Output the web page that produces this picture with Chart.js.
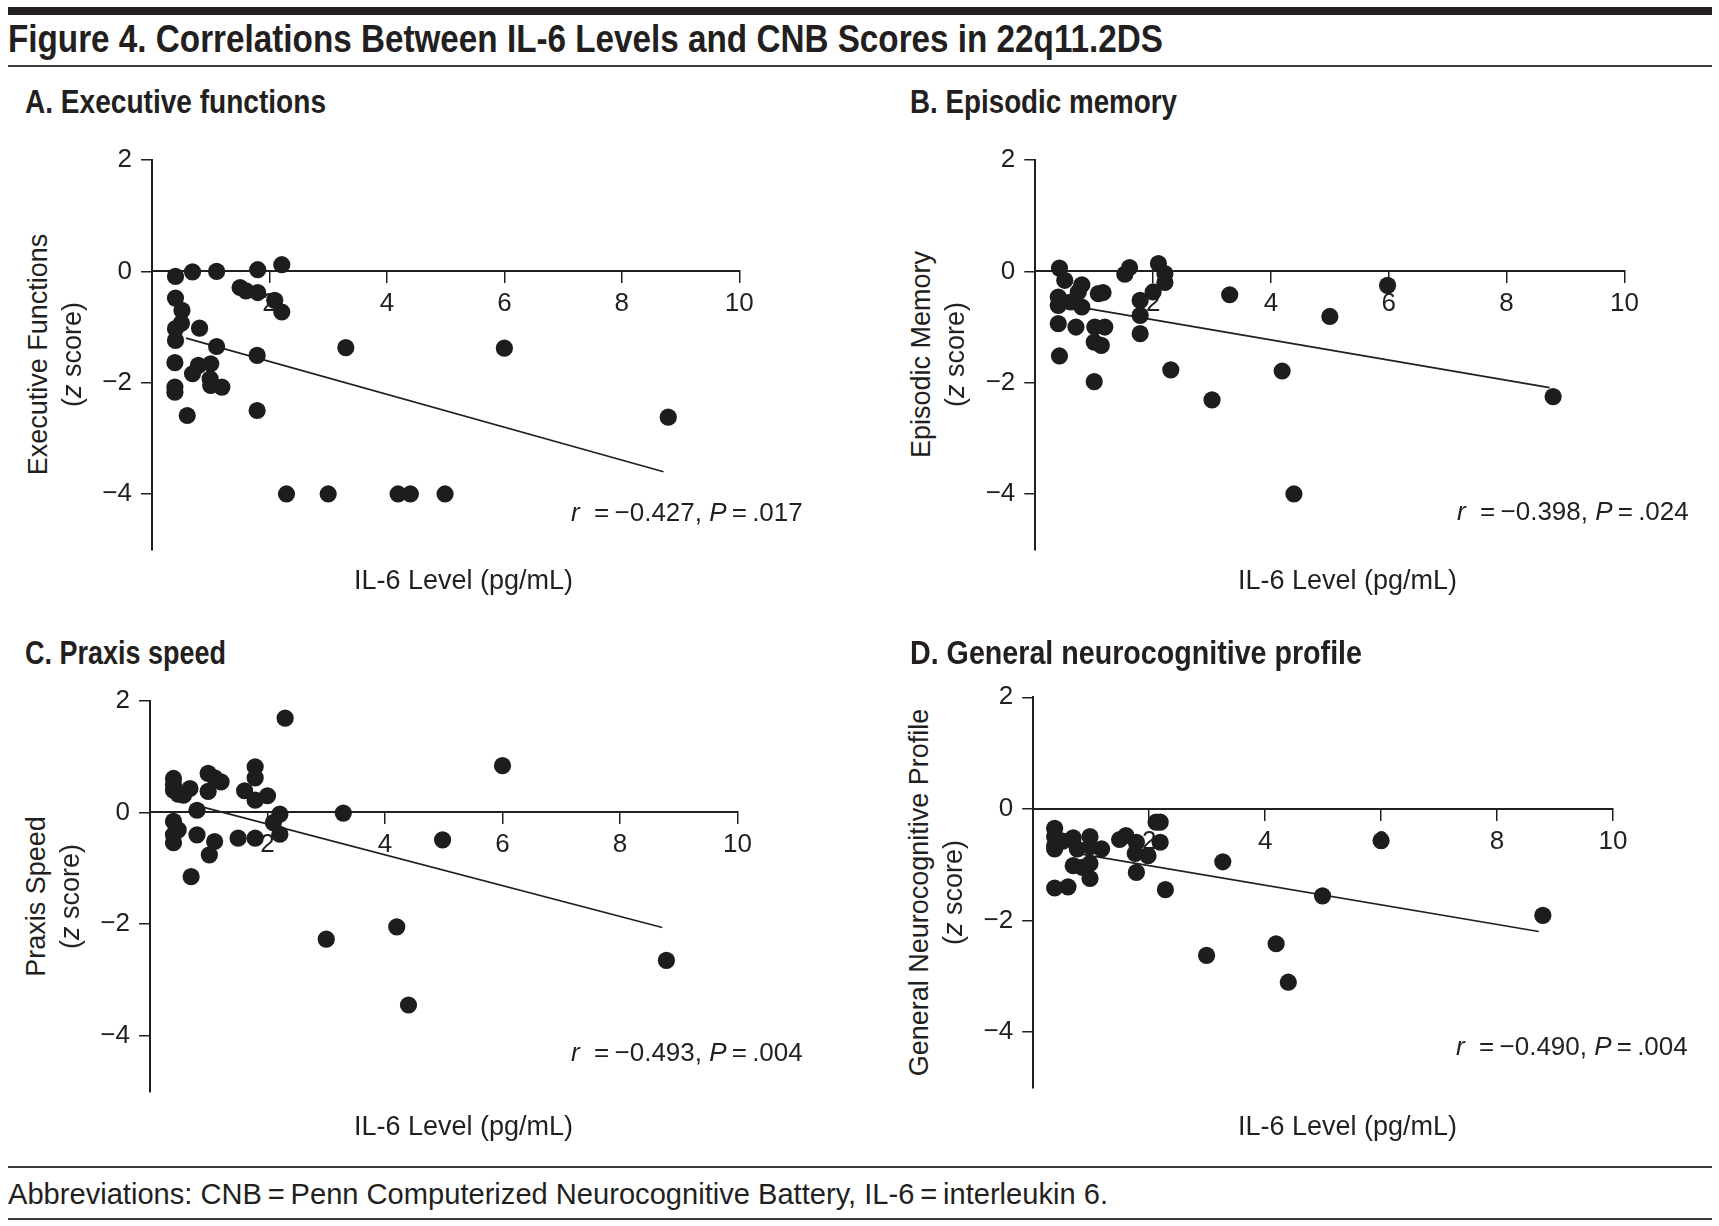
<!DOCTYPE html>
<html><head><meta charset="utf-8">
<script src="https://cdn.jsdelivr.net/npm/chart.js@4.4.1/dist/chart.umd.min.js"></script>
<style>
html,body{margin:0;padding:0;background:#fff;}
body{width:1719px;height:1226px;position:relative;overflow:hidden;}
canvas{position:absolute;}
.t{position:absolute;white-space:nowrap;color:#231f20;}
.rule{position:absolute;}
</style></head><body>
<script>
// ---------------- data ----------------
const xTicks = [2, 4, 6, 8, 10];
const yTicks = [-4, -2, 0, 2];

// A. Executive functions
const execIL6 = [0.40,0.69,1.10,1.80,2.21,1.50,1.60,1.80,2.09,2.21,0.40,0.51,0.50,0.40,0.81,0.40,1.10,1.79,3.30,6.00,0.39,0.79,1.00,0.69,0.99,1.00,1.19,0.39,0.39,0.60,1.79,8.79,2.29,3.00,4.19,4.40,4.99];
const execZ   = [-0.09,-0.01,0.00,0.03,0.12,-0.29,-0.35,-0.38,-0.52,-0.73,-0.48,-0.70,-0.93,-1.03,-1.02,-1.24,-1.35,-1.51,-1.37,-1.38,-1.64,-1.69,-1.66,-1.84,-1.93,-2.05,-2.08,-2.08,-2.17,-2.59,-2.50,-2.62,-4.00,-4.00,-4.00,-4.00,-4.00];
const execFitIL6 = [0.58, 8.71];
const execFitZ   = [-1.20, -3.60];

// B. Episodic memory
const memIL6 = [0.41,0.50,0.79,0.73,1.07,1.15,0.39,0.39,0.60,0.79,0.39,0.69,1.01,1.18,1.00,1.12,0.41,1.00,1.52,1.60,2.09,2.20,2.20,2.00,1.78,1.78,1.78,3.30,5.98,5.00,2.30,3.00,4.19,4.39,8.79];
const memZ   = [0.06,-0.16,-0.24,-0.37,-0.40,-0.38,-0.46,-0.61,-0.55,-0.64,-0.94,-1.00,-1.00,-1.00,-1.27,-1.33,-1.52,-1.98,-0.05,0.07,0.14,-0.04,-0.20,-0.37,-0.52,-0.79,-1.12,-0.42,-0.25,-0.81,-1.77,-2.31,-1.79,-4.00,-2.25];
const memFitIL6 = [0.90, 8.73];
const memFitZ   = [-0.67, -2.09];

// C. Praxis speed
const prxIL6 = [2.30,1.79,1.79,0.40,0.40,0.40,0.99,1.10,1.21,0.99,0.68,0.57,0.48,1.61,1.79,2.00,0.80,2.21,2.10,2.21,0.40,0.48,0.40,0.40,0.80,1.10,1.01,0.70,1.50,1.79,3.29,4.98,3.00,4.20,4.40,6.00,8.79];
const prxZ   = [1.69,0.82,0.62,0.61,0.50,0.40,0.70,0.62,0.55,0.38,0.43,0.31,0.33,0.39,0.22,0.30,0.04,-0.03,-0.18,-0.39,-0.16,-0.31,-0.40,-0.54,-0.40,-0.52,-0.76,-1.15,-0.46,-0.46,-0.01,-0.49,-2.27,-2.05,-3.45,0.84,-2.65];
const prxFitIL6 = [0.82, 8.72];
const prxFitZ   = [0.12, -2.06];

// D. General neurocognitive profile
const genIL6 = [0.37,0.37,0.37,0.37,0.51,0.69,0.76,0.98,0.98,1.18,0.69,0.85,0.98,0.98,0.37,0.60,1.49,1.60,1.78,1.76,1.98,1.78,2.12,2.19,2.19,2.28,3.27,6.00,4.99,2.99,4.19,4.40,8.79];
const genZ   = [-0.35,-0.50,-0.66,-0.72,-0.58,-0.52,-0.72,-0.50,-0.68,-0.72,-1.02,-1.05,-0.98,-1.25,-1.42,-1.40,-0.55,-0.48,-0.60,-0.80,-0.84,-1.14,-0.24,-0.24,-0.60,-1.45,-0.95,-0.57,-1.56,-2.63,-2.42,-3.11,-1.91];
const genFitIL6 = [0.75, 8.72];
const genFitZ   = [-0.80, -2.20];

// ---------------- text ----------------
const figTitle = 'Figure 4. Correlations Between IL-6 Levels and CNB Scores in 22q11.2DS';
const xTitle = 'IL-6 Level (pg/mL)';
const footnote = 'Abbreviations: CNB\u2009=\u2009Penn Computerized Neurocognitive Battery, IL-6\u2009=\u2009interleukin 6.';

const panels = [
  {title:'A. Executive functions', yTitle:'Executive Functions', x:execIL6, y:execZ, fx:execFitIL6, fy:execFitZ,
   stat:['\u22120.427','.017'], area:{L:152,T:160.1,R:739.3,B:549.6}, tx:25, tb:113, tw:301, ax:571, ab:521, xc:463.5, xb:590},
  {title:'B. Episodic memory', yTitle:'Episodic Memory', x:memIL6, y:memZ, fx:memFitIL6, fy:memFitZ,
   stat:['\u22120.398','.024'], area:{L:1035.3,T:160.1,R:1624.4,B:549.6}, tx:910, tb:113, tw:267, ax:1457, ab:520, xc:1347.5, xb:590},
  {title:'C. Praxis speed', yTitle:'Praxis Speed', x:prxIL6, y:prxZ, fx:prxFitIL6, fy:prxFitZ,
   stat:['\u22120.493','.004'], area:{L:150,T:700.9,R:737.5,B:1091.5}, tx:25, tb:664, tw:201, ax:571, ab:1061, xc:463.5, xb:1136},
  {title:'D. General neurocognitive profile', yTitle:'General Neurocognitive Profile', x:genIL6, y:genZ, fx:genFitIL6, fy:genFitZ,
   stat:['\u22120.490','.004'], area:{L:1033.2,T:697.3,R:1613,B:1087.6}, tx:910, tb:664, tw:452, ax:1456, ab:1055, xc:1347.5, xb:1136}
];

const INK = '#231f20';
const DOT = '#1d1d1d';
const REG = "'Liberation Sans', Arial, sans-serif";
const NARROW = "'Liberation Sans Narrow', 'Liberation Sans', sans-serif";
const BASE = 0.8465; // baseline offset (em) inside a line-height:1 box

function addText(html, x, baseline, size, family, weight, align, width, style) {
  const d = document.createElement('div');
  d.className = 't';
  d.innerHTML = html;
  d.style.fontFamily = family;
  d.style.fontSize = size + 'px';
  d.style.fontWeight = weight || 'normal';
  if (style) d.style.fontStyle = style;
  d.style.lineHeight = '1';
  d.style.top = (baseline - BASE * size) + 'px';
  d.style.left = '0px';
  document.body.appendChild(d);
  const w = d.getBoundingClientRect().width;
  let sc = 1;
  if (width) { sc = width / w; d.style.transformOrigin = '0 0'; d.style.transform = 'scaleX(' + sc + ')'; }
  const ww = w * sc;
  d.style.left = (align === 'center' ? x - ww / 2 : align === 'right' ? x - ww : x) + 'px';
  return d;
}
function addVText(html, baselineX, centerY, size, family) {
  const d = document.createElement('div');
  d.className = 't';
  d.innerHTML = html;
  d.style.fontFamily = family;
  d.style.fontSize = size + 'px';
  d.style.lineHeight = '1';
  document.body.appendChild(d);
  const w = d.getBoundingClientRect().width;
  const cx = baselineX - (BASE - 0.5) * size;
  d.style.left = (cx - w / 2) + 'px';
  d.style.top = (centerY - size / 2) + 'px';
  d.style.transform = 'rotate(-90deg)';
  return d;
}
function addRule(x, y, w, h, color) {
  const d = document.createElement('div');
  d.className = 'rule';
  Object.assign(d.style, {left:x+'px', top:y+'px', width:w+'px', height:h+'px', background:color});
  document.body.appendChild(d);
}

// rules
addRule(8, 7, 1704, 8, INK);
addRule(8, 65, 1704, 2, '#3c3c3c');
addRule(8, 1166, 1704, 2, '#3c3c3c');
addRule(8, 1218, 1704, 2, '#3c3c3c');

addText(figTitle, 8, 52, 38, NARROW, 'bold', 'left', 1155);
addText(footnote, 8, 1204, 30, NARROW, 'normal', 'left', 1100);

function fmt(v) { return v < 0 ? '\u2212' + Math.abs(v) : String(v); }

panels.forEach((p, i) => {
  const a = p.area;
  addText(p.title, p.tx, p.tb, 33, NARROW, 'bold', 'left', p.tw);
  const cy = (a.T + a.B) / 2;
  addVText(p.yTitle, a.L - 104, cy, 27, REG);
  addVText('(<i>z</i> score)', a.L - 70, cy, 27, REG);
  addText(xTitle, p.xc, p.xb, 27, REG, 'normal', 'center');
  addText('<i>r</i>&nbsp;&nbsp;=\u2009' + p.stat[0] + ', <i>P</i>\u2009=\u2009' + p.stat[1], p.ax, p.ab, 26, REG, 'normal', 'left');

  // canvas geometry so that the chart area lands on the target rectangle
  const yAxisW = 60;
  const cl = Math.round(a.L - 80), ct = Math.round(a.T - 30);
  const cw = Math.round(a.R - cl + 60), ch = Math.round(a.B - ct + 60);
  const pad = {left: a.L - yAxisW - cl, top: a.T - ct, right: cl + cw - a.R, bottom: ct + ch - a.B};
  const cv = document.createElement('canvas');
  cv.width = cw; cv.height = ch;
  cv.style.left = cl + 'px'; cv.style.top = ct + 'px';
  cv.style.width = cw + 'px'; cv.style.height = ch + 'px';
  document.body.insertBefore(cv, document.body.firstChild);

  new Chart(cv, {
    type: 'scatter',
    data: {
      datasets: [
        {data: p.x.map((v, k) => ({x: v, y: p.y[k]})), pointRadius: 8.6, pointHoverRadius: 8.6,
         pointBackgroundColor: DOT, pointBorderWidth: 0, borderWidth: 0},
        {type: 'line', data: p.fx.map((v, k) => ({x: v, y: p.fy[k]})), borderColor: INK, borderWidth: 1.7,
         pointRadius: 0, fill: false, tension: 0}
      ]
    },
    options: {
      responsive: false, animation: false,
      layout: {padding: pad},
      plugins: {legend: {display: false}, tooltip: {enabled: false}},
      scales: {
        x: {
          type: 'linear', min: 0, max: 10, position: {y: 0},
          afterBuildTicks: s => { s.ticks = xTicks.map(v => ({value: v})); },
          grid: {drawOnChartArea: false, drawTicks: true, tickLength: 11, color: INK, lineWidth: 1.5},
          border: {display: true, color: INK, width: 2},
          ticks: {color: INK, font: {family: REG, size: 26}, padding: 6, callback: v => fmt(v), maxRotation: 0}
        },
        y: {
          type: 'linear', min: -5, max: 2, position: 'left',
          afterBuildTicks: s => { s.ticks = yTicks.map(v => ({value: v})); },
          afterFit: s => { s.width = yAxisW; },
          grid: {drawOnChartArea: false, drawTicks: true, tickLength: 11, color: INK, lineWidth: 1.5},
          border: {display: true, color: INK, width: 2},
          ticks: {color: INK, font: {family: REG, size: 26}, padding: 9, callback: v => fmt(v)}
        }
      }
    }
  });
});
</script>
</body></html>
